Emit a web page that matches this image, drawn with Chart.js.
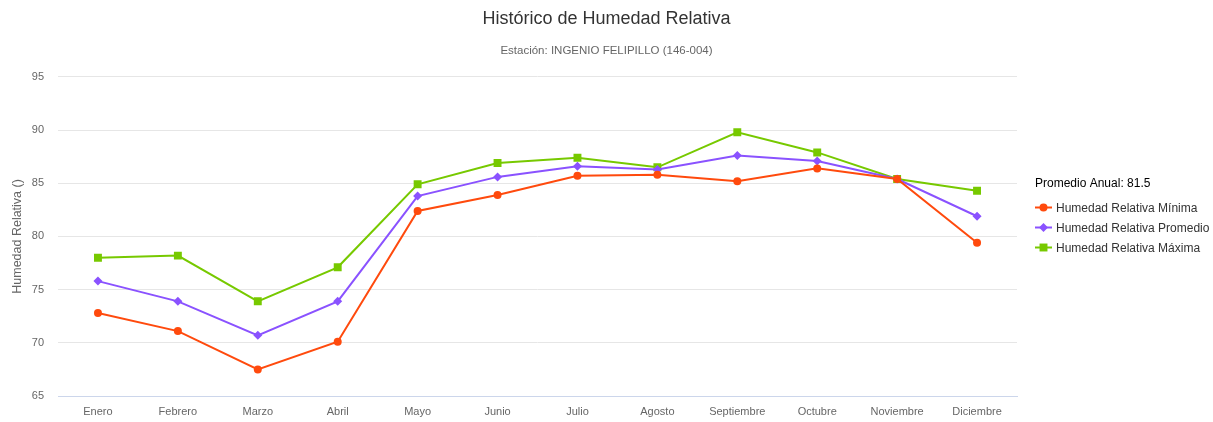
<!DOCTYPE html>
<html>
<head>
<meta charset="utf-8">
<script src="https://cdn.jsdelivr.net/npm/chart.js@4.4.1/dist/chart.umd.min.js"></script>
<style>
  html, body { margin: 0; padding: 0; background: #ffffff; }
  #wrap { width: 1213px; height: 422px; position: relative; }
</style>
</head>
<body>
<div id="wrap"><canvas id="chart" width="1213" height="422"></canvas></div>
<script>
const categories = ['Enero', 'Febrero', 'Marzo', 'Abril', 'Mayo', 'Junio', 'Julio', 'Agosto', 'Septiembre', 'Octubre', 'Noviembre', 'Diciembre'];
const humedadMinima   = [72.8, 71.1, 67.5, 70.1, 82.4, 83.9, 85.7, 85.8, 85.2, 86.4, 85.4, 79.4];
const humedadPromedio = [75.8, 73.9, 70.7, 73.9, 83.8, 85.6, 86.6, 86.3, 87.6, 87.1, 85.4, 81.9];
const humedadMaxima   = [78.0, 78.2, 73.9, 77.1, 84.9, 86.9, 87.4, 86.5, 89.8, 87.9, 85.4, 84.3];
const seriesNames = ['Humedad Relativa Mínima', 'Humedad Relativa Promedio', 'Humedad Relativa Máxima'];
const yTicks = [65, 70, 75, 80, 85, 90, 95];
const promedioAnual = 81.5;
const chartTitle = 'Histórico de Humedad Relativa';
const chartSubtitle = 'Estación: INGENIO FELIPILLO (146-004)';
const yAxisTitle = 'Humedad Relativa ()';

const FONT = '"Liberation Sans", Arial, Helvetica, sans-serif';

function drawMarker(ctx, style, r, x, y) {
  ctx.beginPath();
  if (style === 'circle') {
    ctx.arc(x, y, r, 0, Math.PI * 2);
  } else if (style === 'rectRot') {
    ctx.moveTo(x, y - r); ctx.lineTo(x + r, y); ctx.lineTo(x, y + r); ctx.lineTo(x - r, y);
    ctx.closePath();
  } else {
    const s = r * Math.SQRT1_2;
    ctx.rect(x - s, y - s, 2 * s, 2 * s);
  }
  ctx.fill();
}

const customLegend = {
  id: 'customLegend',
  afterDraw(chart, args, opts) {
    const ctx = chart.ctx;
    ctx.save();
    ctx.textAlign = 'left';
    ctx.textBaseline = 'alphabetic';
    ctx.font = '12px ' + FONT;
    ctx.fillStyle = '#000000';
    ctx.fillText('Promedio Anual: ' + promedioAnual, opts.x, opts.titleBaseline);
    chart.data.datasets.forEach((ds, i) => {
      const y = opts.firstY + i * opts.rowH;
      ctx.strokeStyle = ds.borderColor;
      ctx.lineWidth = 2;
      ctx.beginPath();
      ctx.moveTo(opts.x, y);
      ctx.lineTo(opts.x + opts.symW, y);
      ctx.stroke();
      ctx.fillStyle = ds.backgroundColor;
      drawMarker(ctx, ds.pointStyle, ds.pointRadius, opts.x + opts.symW / 2, y);
      ctx.fillStyle = '#333333';
      ctx.fillText(ds.label, opts.x + opts.symW + 4, y + 4.5);
    });
    ctx.restore();
  }
};

const chart = new Chart(document.getElementById('chart'), {
  type: 'line',
  data: {
    labels: categories,
    datasets: [
      { label: seriesNames[0], data: humedadMinima, borderColor: '#ff4a0d', backgroundColor: '#ff4a0d',
        pointStyle: 'circle', pointRadius: 4, pointHoverRadius: 4, pointBorderWidth: 0, borderWidth: 2, tension: 0 },
      { label: seriesNames[1], data: humedadPromedio, borderColor: '#8a52ff', backgroundColor: '#8a52ff',
        pointStyle: 'rectRot', pointRadius: 4.5, pointHoverRadius: 4.5, pointBorderWidth: 0, borderWidth: 2, tension: 0 },
      { label: seriesNames[2], data: humedadMaxima, borderColor: '#77c900', backgroundColor: '#77c900',
        pointStyle: 'rect', pointRadius: 5.6, pointHoverRadius: 5.6, pointBorderWidth: 0, borderWidth: 2, tension: 0 }
    ]
  },
  options: {
    responsive: false,
    animation: false,
    devicePixelRatio: 1,
    layout: { padding: { left: 0, right: 0, top: 0, bottom: 0 } },
    plugins: {
      legend: { display: false },
      tooltip: { enabled: false },
      title: {
        display: true, text: chartTitle, color: '#333333',
        font: { family: FONT, size: 18, weight: 'normal' },
        padding: { top: 8, bottom: 13 }
      },
      subtitle: {
        display: true, text: chartSubtitle, color: '#666666',
        font: { family: FONT, size: 11.5, weight: 'normal' },
        padding: { top: 1.5, bottom: 19 }
      },
      customLegend: { x: 1035, titleBaseline: 187, firstY: 207.5, rowH: 20, symW: 17 }
    },
    scales: {
      x: {
        offset: true,
        afterFit(scale) { scale.height = 26; },
        grid: { display: false, drawTicks: false },
        border: { display: true, color: '#ccd6eb', width: 1 },
        ticks: { color: '#666666', font: { family: FONT, size: 11 }, padding: 9.4, maxRotation: 0, autoSkip: false }
      },
      y: {
        min: yTicks[0], max: yTicks[yTicks.length - 1],
        afterBuildTicks(scale) { scale.ticks = yTicks.map(v => ({ value: v })); },
        afterFit(scale) { scale.width = 58; },
        grid: { color: '#e6e6e6', lineWidth: 1, drawTicks: false },
        border: { display: false },
        ticks: { color: '#666666', font: { family: FONT, size: 11 }, padding: 14 },
        title: { display: true, text: yAxisTitle, color: '#666666', font: { family: FONT, size: 12.5, weight: 'normal' }, padding: { top: 10, bottom: 0 } }
      },
      legendSpace: {
        type: 'linear', position: 'right', display: true,
        afterFit(scale) { scale.width = 196; },
        grid: { display: false, drawTicks: false },
        border: { display: false },
        ticks: { display: false }
      }
    }
  },
  plugins: [customLegend]
});
</script>
</body>
</html>
